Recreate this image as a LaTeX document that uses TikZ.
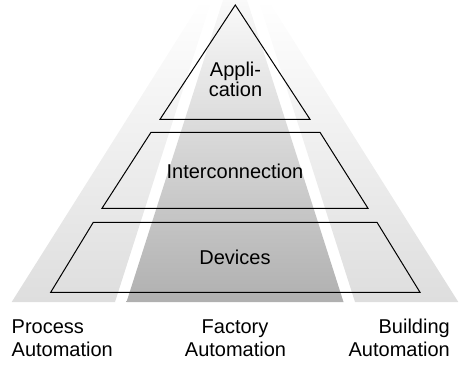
\documentclass[tikz,border=0pt]{standalone}
\usepackage{fontspec}
\setmainfont{Liberation Sans}
\begin{document}
\begin{tikzpicture}[x=1pt,y=-1pt,
  outline/.style={draw=black, line width=1pt, line join=miter},
  lbl/.style={font=\fontsize{20}{23}\selectfont, inner sep=0pt, anchor=base},
  sideband/.style={top color=white, bottom color=black!13},
  midband/.style={top color=black!2, bottom color=black!31}]
\useasboundingbox (0,0) rectangle (460,364);

% three application domains as fading bands
\shade[sideband] (11.7,302) -- (115,302) -- (211.6,0) -- (202,0) -- cycle;
\shade[midband]  (126.5,302) -- (343.5,302) -- (247,0) -- (223,0) -- cycle;
\shade[sideband] (458.3,302) -- (355,302) -- (258.4,0) -- (268,0) -- cycle;

% layer outlines
\coordinate (apex) at (235.3,5);
\coordinate (tl) at (160,119.3);
\coordinate (tr) at (310,119.3);
\draw[outline] (tl) -- (apex) -- (tr) -- cycle;

\coordinate (i1) at (102,208.3);
\coordinate (i2) at (368,208.3);
\coordinate (i3) at (320,132.3);
\coordinate (i4) at (151,132.3);
\draw[outline] (i1) -- (i2) -- (i3) -- (i4) -- cycle;

\coordinate (d1) at (50.7,292.3);
\coordinate (d2) at (420,292.3);
\coordinate (d3) at (377,222.3);
\coordinate (d4) at (93.3,222.3);
\draw[outline] (d1) -- (d2) -- (d3) -- (d4) -- cycle;

% layer names
\node[lbl] (appA) at (235.5,76.3) {Appli-};
\node[lbl] (appB) at (235.5,96.3) {cation};
\node[lbl] (inter) at (235,178.3) {Interconnection};
\node[lbl] (dev) at (235,264.3) {Devices};

% domain names
\node[lbl, anchor=base west] (procA) at (11.5,333.3) {Process};
\node[lbl, anchor=base west] (procB) at (11.5,356.7) {Automation};
\node[lbl] (factA) at (235,333.3) {Factory};
\node[lbl] (factB) at (235.5,356.7) {Automation};
\node[lbl, anchor=base east] (buildA) at (450,333.3) {Building};
\node[lbl, anchor=base east] (buildB) at (450,356.7) {Automation};
\end{tikzpicture}
\end{document}
